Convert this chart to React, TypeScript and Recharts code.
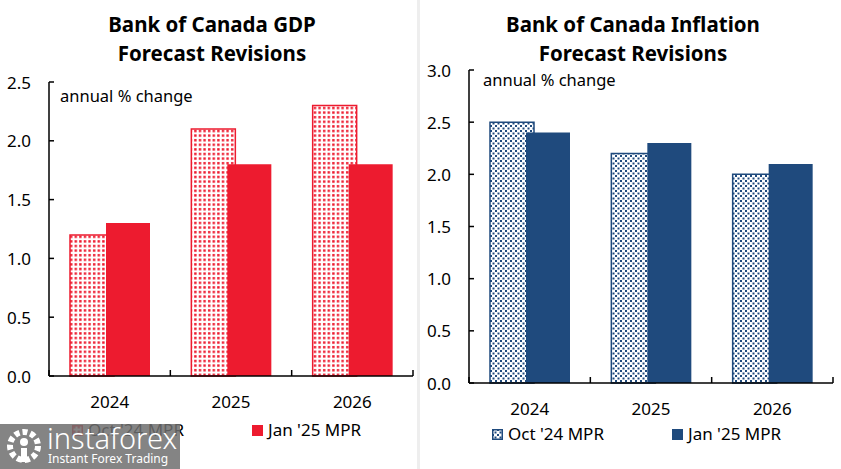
import React from 'react';
import { BarChart, Bar, XAxis, YAxis } from 'recharts';

const years = ['2024', '2025', '2026'];
const gdpOct = [1.2, 2.1, 2.3];
const gdpJan = [1.3, 1.8, 1.8];
const infOct = [2.5, 2.2, 2.0];
const infJan = [2.4, 2.3, 2.1];
const gdpTicks = [0, 0.5, 1.0, 1.5, 2.0, 2.5];
const infTicks = [0, 0.5, 1.0, 1.5, 2.0, 2.5, 3.0];
const seriesNames = ["Oct '24 MPR", "Jan '25 MPR"];
const gdpTitle = ['Bank of Canada GDP', 'Forecast Revisions'];
const infTitle = ['Bank of Canada Inflation', 'Forecast Revisions'];
const unitLabel = 'annual % change';

const RED = '#ED1B2F';
const BLUE = '#1F4A7D';
const FONT = "'Noto Sans', sans-serif";

const gdpData = years.map((y, i) => ({ year: y, oct: gdpOct[i], jan: gdpJan[i] }));
const infData = years.map((y, i) => ({ year: y, oct: infOct[i], jan: infJan[i] }));

const makeXTick = (halfBand: number, count: number, labelDy: number) => (props: any) => {
  const { x, y, payload, index } = props;
  return (
    <g>
      <line x1={x - halfBand} x2={x - halfBand} y1={y} y2={y - 6} stroke="#000" strokeWidth={1.5} />
      {index === count - 1 && (
        <line x1={x + halfBand} x2={x + halfBand} y1={y} y2={y - 6} stroke="#000" strokeWidth={1.5} />
      )}
      <text x={x} y={y + labelDy} textAnchor="middle" dominantBaseline="central" fontSize={17} fontFamily={FONT} fill="#000">
        {payload.value}
      </text>
    </g>
  );
};

const YTick = (props: any) => {
  const { x, y, payload } = props;
  return (
    <g>
      <line x1={x} x2={x + 5} y1={y} y2={y} stroke="#000" strokeWidth={1.5} />
      <text x={x - 18} y={y} textAnchor="end" dominantBaseline="central" fontSize={17} fontFamily={FONT} fill="#000">
        {Number(payload.value).toFixed(1)}
      </text>
    </g>
  );
};

type PanelProps = {
  left: number;
  width: number;
  data: any[];
  ticks: number[];
  domainMax: number;
  top: number;
  bottom: number;
  right: number;
  color: string;
  patternId: string;
  pattern: React.ReactNode;
};

const Y_W = 49;

const Panel = ({ left, width, data, ticks, domainMax, top, bottom, right, color, patternId, pattern }: PanelProps) => {
  const plotW = width - Y_W - right;
  const half = plotW / years.length / 2;
  return (
    <div style={{ position: 'absolute', left, top: 0 }}>
      <BarChart
        width={width}
        height={469}
        data={data}
        margin={{ top, right, bottom: bottom - 30, left: 0 }}
        barSize={44}
        barGap={-8}
      >
        <defs>{pattern}</defs>
        <XAxis
          dataKey="year"
          height={30}
          axisLine={{ stroke: '#000', strokeWidth: 1.5 }}
          tickLine={false}
          tickSize={0}
          tickMargin={0}
          interval={0}
          tick={makeXTick(half, years.length, 25)}
        />
        <YAxis
          width={Y_W}
          domain={[0, domainMax]}
          ticks={ticks}
          interval={0}
          axisLine={{ stroke: '#000', strokeWidth: 1.5 }}
          tickLine={false}
          tickSize={0}
          tickMargin={0}
          tick={<YTick />}
        />
        <Bar dataKey="oct" fill={`url(#${patternId})`} stroke={color} strokeWidth={1.5} isAnimationActive={false} />
        <Bar dataKey="jan" fill={color} isAnimationActive={false} />
      </BarChart>
    </div>
  );
};

const dotPattern = (id: string) => (
  <pattern id={id} width={4.6} height={4.6} patternUnits="userSpaceOnUse">
    <rect width={4.6} height={4.6} fill="#fff" />
    <rect x={1} y={1} width={2.4} height={2.4} fill={RED} />
  </pattern>
);

const checkPattern = (id: string) => (
  <pattern id={id} width={5} height={5} patternUnits="userSpaceOnUse">
    <rect width={5} height={5} fill="#fff" />
    <rect x={0} y={0} width={2} height={2} fill={BLUE} />
    <rect x={2.5} y={2.5} width={2} height={2} fill={BLUE} />
  </pattern>
);

const Swatch = ({ color, patterned, kind, id }: { color: string; patterned: boolean; kind: 'dot' | 'check'; id: string }) => (
  <svg width={11} height={11} style={{ display: 'block' }}>
    {patterned && <defs>{kind === 'dot' ? dotPattern(id) : checkPattern(id)}</defs>}
    <rect x={0.75} y={0.75} width={9.5} height={9.5} fill={patterned ? `url(#${id})` : color} stroke={color} strokeWidth={1.5} />
  </svg>
);

const LegendRow = ({ top, x1, x2, color, kind, idp }: { top: number; x1: number; x2: number; color: string; kind: 'dot' | 'check'; idp: string }) => (
  <>
    {[x1, x2].map((x, i) => (
      <div key={i} style={{ position: 'absolute', left: x, top, display: 'flex', alignItems: 'center', gap: 5, fontFamily: FONT, fontSize: 17, lineHeight: '20px', color: '#000', whiteSpace: 'nowrap' }}>
        <Swatch color={color} patterned={i === 0} kind={kind} id={`${idp}-${i}`} />
        <span>{seriesNames[i]}</span>
      </div>
    ))}
  </>
);

const Title = ({ lines, cx }: { lines: string[]; cx: number }) => (
  <div style={{ position: 'absolute', left: cx - 200, width: 400, top: 10, textAlign: 'center', fontFamily: FONT, fontWeight: 700, fontSize: 20.5, lineHeight: '29px', color: '#000' }}>
    {lines.map((l, i) => (
      <div key={i}>{l}</div>
    ))}
  </div>
);

export default function App() {
  return (
    <div style={{ position: 'absolute', left: 0, top: 0, width: 841, height: 469, background: '#fff', overflow: 'hidden' }}>
      <div style={{ position: 'absolute', left: 417, top: 0, width: 3, height: 469, background: '#eeeeee' }} />
      <Title lines={gdpTitle} cx={212} />
      <Title lines={infTitle} cx={633} />
      <div style={{ position: 'absolute', left: 60, top: 86, fontFamily: FONT, fontSize: 16.5, lineHeight: '20px' }}>{unitLabel}</div>
      <div style={{ position: 'absolute', left: 483, top: 70, fontFamily: FONT, fontSize: 16.5, lineHeight: '20px' }}>{unitLabel}</div>
      <Panel left={0} width={418} data={gdpData} ticks={gdpTicks} domainMax={2.5} top={82} bottom={93} right={5}
        color={RED} patternId="gdpPat" pattern={dotPattern('gdpPat')} />
      <Panel left={420} width={421} data={infData} ticks={infTicks} domainMax={3.0} top={70} bottom={86} right={8}
        color={BLUE} patternId="infPat" pattern={checkPattern('infPat')} />
      <LegendRow top={420} x1={72} x2={252} color={RED} kind="dot" idp="lg" />
      <LegendRow top={424} x1={492} x2={672} color={BLUE} kind="check" idp="li" />
      <div style={{ position: 'absolute', left: 0, top: 424, width: 180, height: 45, background: 'rgba(110,110,110,0.85)' }}>
        <svg width={40} height={40} style={{ position: 'absolute', left: 5, top: 3 }}>
          <circle cx={19} cy={19} r={14} fill="none" stroke="#fff" strokeWidth={6} strokeDasharray="5 3" />
          <circle cx={19} cy={15} r={4} fill="#fff" />
          <rect x={16} y={21} width={6} height={14} fill="#fff" />
        </svg>
        <div style={{ position: 'absolute', left: 47, top: -3, color: '#fff', fontFamily: FONT, fontWeight: 300, fontSize: 29, lineHeight: '34px' }}>instaforex</div>
        <div style={{ position: 'absolute', left: 48, top: 28, color: '#fff', fontFamily: FONT, fontSize: 12, lineHeight: '14px' }}>Instant Forex Trading</div>
      </div>
    </div>
  );
}
